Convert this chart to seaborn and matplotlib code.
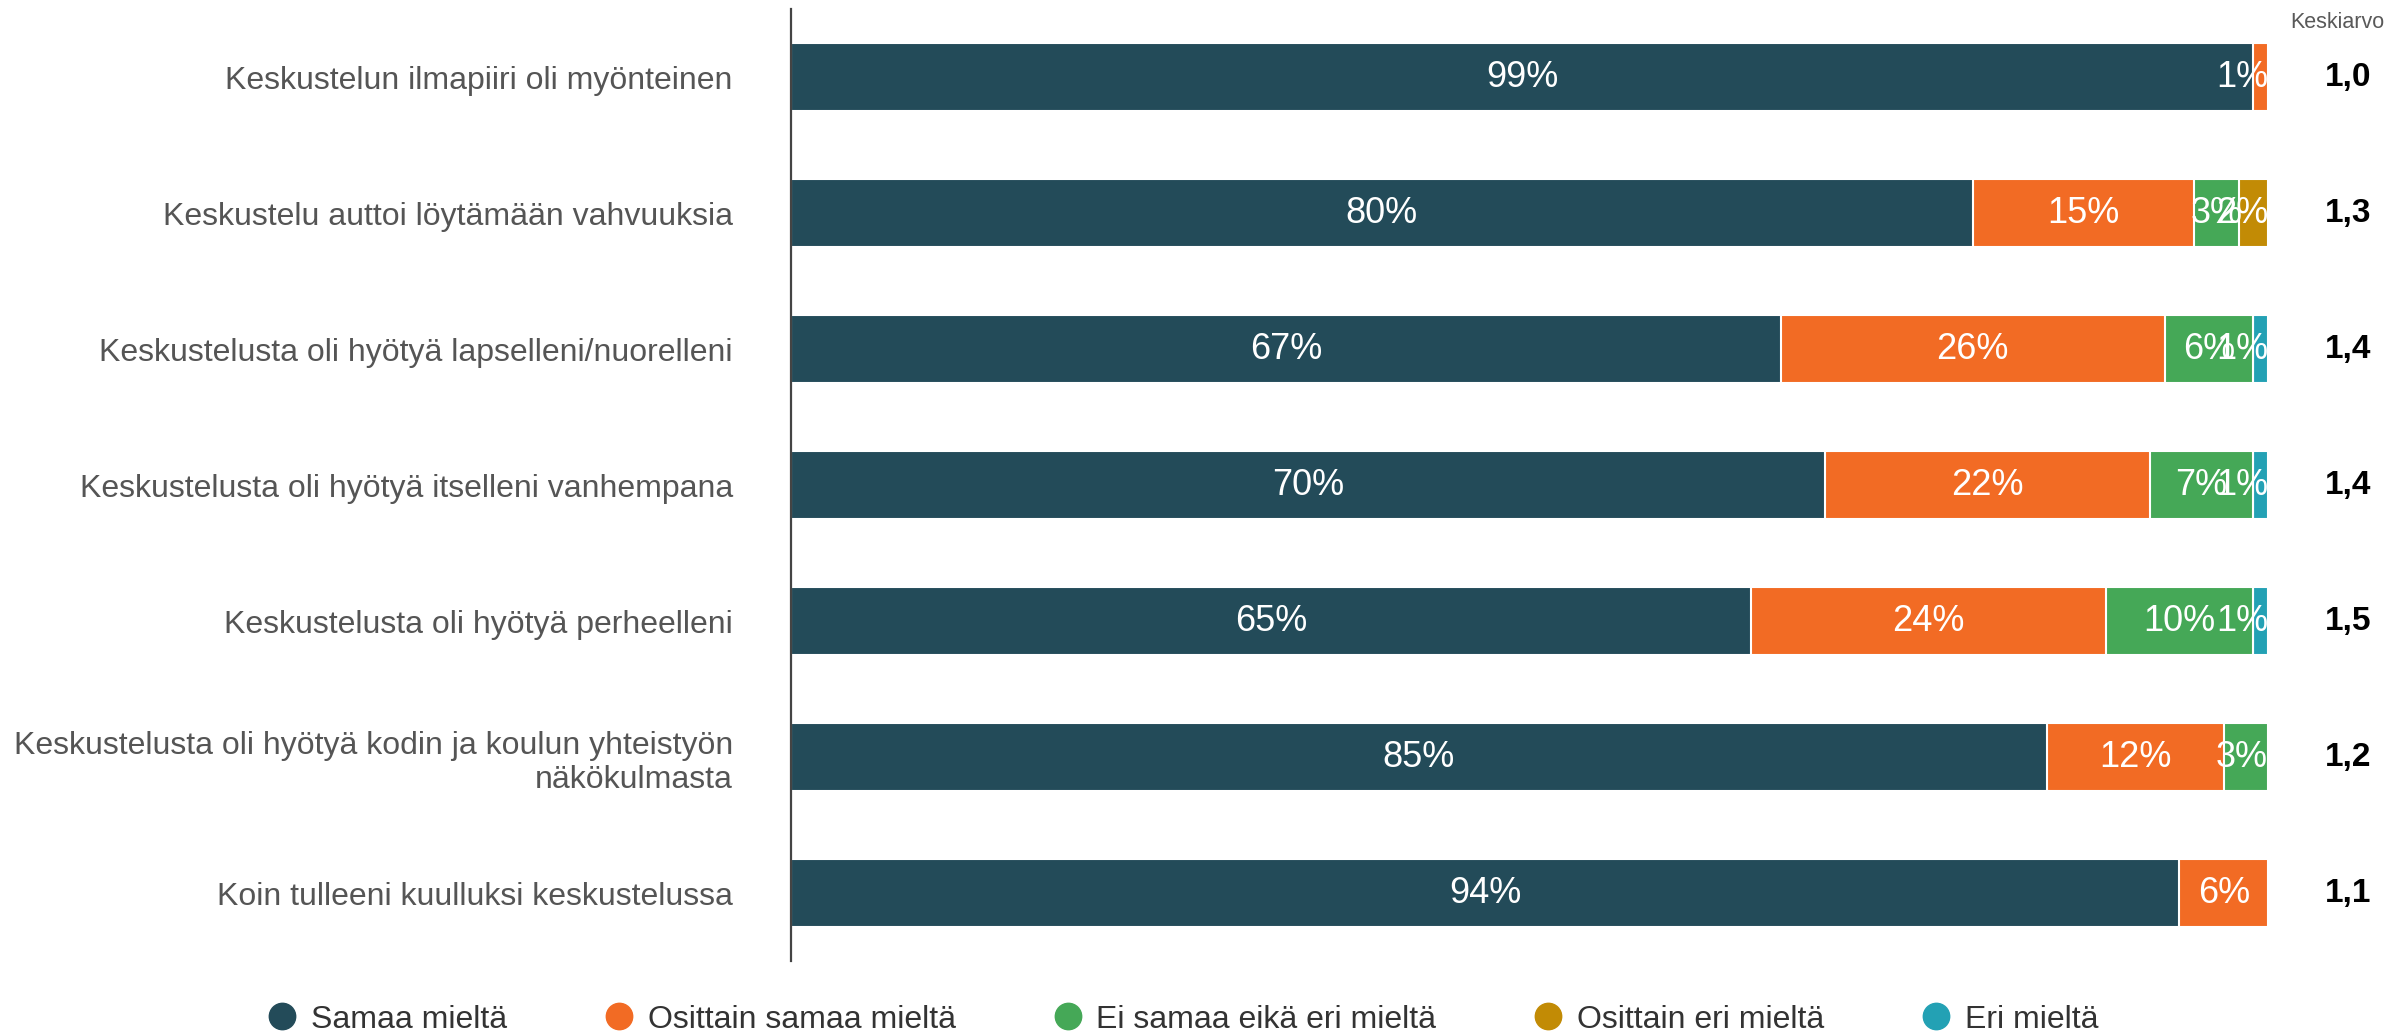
import numpy as np
import pandas as pd
import matplotlib
matplotlib.use('Agg')
import matplotlib.pyplot as plt
import matplotlib.transforms as mtransforms
from matplotlib.lines import Line2D
import seaborn as sns

# Data
items = [
    'Keskustelun ilmapiiri oli myönteinen',
    'Keskustelu auttoi löytämään vahvuuksia',
    'Keskustelusta oli hyötyä lapselleni/nuorelleni',
    'Keskustelusta oli hyötyä itselleni vanhempana',
    'Keskustelusta oli hyötyä perheelleni',
    'Keskustelusta oli hyötyä kodin ja koulun yhteistyön\nnäkökulmasta',
    'Koin tulleeni kuulluksi keskustelussa',
]
categories = ['Samaa mieltä', 'Osittain samaa mieltä', 'Ei samaa eikä eri mieltä',
              'Osittain eri mieltä', 'Eri mieltä']
samaa = [99, 80, 67, 70, 65, 85, 94]
osittain_samaa = [1, 15, 26, 22, 24, 12, 6]
ei_samaa_eika_eri = [0, 3, 6, 7, 10, 3, 0]
osittain_eri = [0, 2, 0, 0, 0, 0, 0]
eri = [0, 0, 1, 1, 1, 0, 0]
keskiarvo = ['1,0', '1,3', '1,4', '1,4', '1,5', '1,2', '1,1']

colors = ['#234B59', '#F26B24', '#45A857', '#C28B05', '#23A1B4']

df = pd.DataFrame({
    'item': items,
    categories[0]: samaa,
    categories[1]: osittain_samaa,
    categories[2]: ei_samaa_eika_eri,
    categories[3]: osittain_eri,
    categories[4]: eri,
})
cum = df[categories].cumsum(axis=1)

sns.set_style('white')
plt.rcParams['font.family'] = ['Liberation Sans', 'DejaVu Sans']

fig = plt.figure(figsize=(23.9, 10.34), dpi=100)
ax = fig.add_axes([0.331, 0.0706, 0.618, 0.9204])

# stacked bars: draw cumulative totals from the largest down
for cat, col in zip(reversed(categories), reversed(colors)):
    plot_df = pd.DataFrame({'item': items, 'val': cum[cat]})
    sns.barplot(data=plot_df, x='val', y='item', color=col, orient='h',
                width=0.5, edgecolor='white', linewidth=1.5, ax=ax,
                saturation=1, errorbar=None)

ax.set_xlim(0, 100)
ax.set_ylim(6.5, -0.5)
ax.set_xlabel('')
ax.set_ylabel('')
ax.set_xticks([])
for s in ['top', 'right', 'bottom']:
    ax.spines[s].set_visible(False)
ax.spines['left'].set_color('#444444')
ax.spines['left'].set_linewidth(1.6)
ax.tick_params(axis='y', length=0, pad=42, labelsize=23, labelcolor='#555555')

# value labels, kept inside the plot area
fig.canvas.draw()
renderer = fig.canvas.get_renderer()
inv = ax.transData.inverted()
for i in range(len(items)):
    left = 0
    for cat in categories:
        v = df.loc[i, cat]
        if v > 0:
            xc = left + v / 2
            t = ax.text(xc, i, f'{v}%', ha='center', va='center', color='white',
                        fontsize=26)
            bb = t.get_window_extent(renderer)
            x0, _ = inv.transform((bb.x0, 0))
            x1, _ = inv.transform((bb.x1, 0))
            half = (x1 - x0) / 2
            if xc + half > 100:
                t.set_x(100 - half)
        left += v

# mean column
trans = mtransforms.blended_transform_factory(ax.transAxes, ax.transData)
for i, m in enumerate(keskiarvo):
    ax.text(1.054, i, m, transform=trans, ha='center', va='center',
            fontsize=24, fontweight='bold', color='black')
fig.text(2337 / 2390, 1 - 22 / 1034, 'Keskiarvo', ha='center', va='center',
         fontsize=15.5, color='#595959')

handles = [Line2D([0], [0], marker='o', linestyle='', markersize=19,
                  markerfacecolor=c, markeredgecolor=c) for c in colors]
fig.legend(handles, categories, loc='center', bbox_to_anchor=(0.496, 0.014),
           ncol=5, frameon=False, fontsize=23, handlelength=0.6,
           handletextpad=0.6, columnspacing=3.2, labelcolor='#333333')

fig.savefig('out.png', dpi=100)
